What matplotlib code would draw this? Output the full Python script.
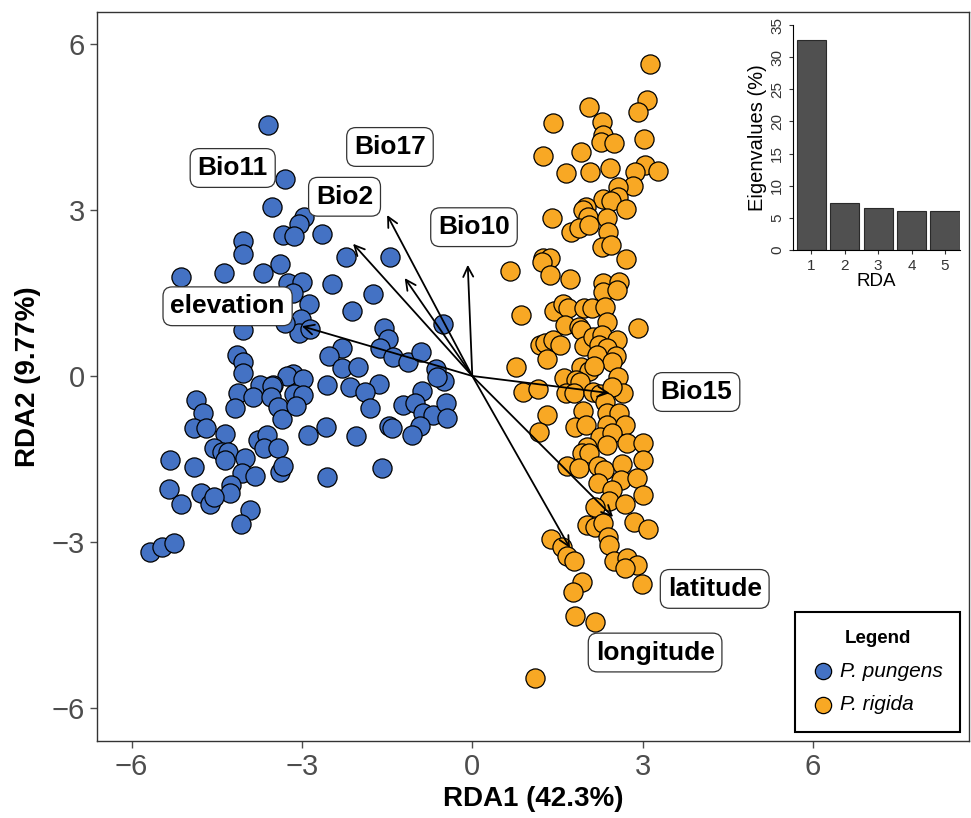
import matplotlib.pyplot as plt

plt.rcParams['font.family'] = ['Liberation Sans', 'DejaVu Sans']

# site scores (RDA1, RDA2)
pungens_x = [-3.60, -3.29, -3.53, -2.97, -3.06, -3.34, -3.14, -2.65, -4.04, -4.04,
             -2.23, -1.45, -5.13, -4.38, -3.69, -3.39, -3.25, -3.00, -2.47, -1.74,
             -2.88, -3.16, -2.12, -3.02, -3.06, -2.86, -1.56, -1.49, -0.52, -4.04,
             -3.30, -4.15, -4.04, -4.04, -2.30, -2.53, -2.30, -2.02, -1.63, -1.40,
             -1.14, -0.91, -0.64, -0.50, -0.63, -1.65, -3.16, -3.27, -2.99, -3.51,
             -3.74, -4.13, -2.56, -2.16, -1.89, -0.89, -4.87, -1.81, -1.22, -1.01,
             -0.87, -0.70, -0.47, -0.45, -0.92, -1.07, -1.47, -1.42, -2.05, -2.58,
             -2.90, -1.59, -2.56, -4.75, -4.91, -4.69, -4.36, -4.55, -4.41, -4.31,
             -4.36, -4.18, -3.87, -3.53, -3.55, -3.43, -3.36, -3.14, -2.99, -3.11,
             -3.78, -3.62, -3.67, -3.43, -4.01, -4.06, -3.83, -3.39, -3.34, -4.25,
             -4.27, -5.33, -4.91, -5.35, -5.13, -4.78, -4.62, -4.55, -3.92, -4.08,
             -5.68, -5.47, -5.26]
pungens_y = [4.54, 3.56, 3.05, 2.87, 2.75, 2.55, 2.53, 2.57, 2.44, 2.20,
             2.15, 2.15, 1.79, 1.86, 1.86, 2.02, 1.68, 1.70, 1.66, 1.48,
             1.30, 1.50, 1.17, 1.03, 0.78, 0.85, 0.87, 0.67, 0.94, 0.83,
             0.96, 0.38, 0.25, 0.05, 0.51, 0.36, 0.14, 0.16, 0.51, 0.34,
             0.25, 0.43, 0.13, -0.09, -0.02, -0.14, 0.04, 0.00, -0.05, -0.16,
             -0.16, -0.31, -0.16, -0.20, -0.29, -0.27, -0.43, -0.58, -0.52, -0.49,
             -0.67, -0.70, -0.49, -0.76, -0.90, -1.07, -0.90, -0.94, -1.08, -0.92,
             -1.07, -1.66, -1.83, -0.67, -0.94, -0.94, -1.05, -1.30, -1.37, -1.37,
             -1.52, -0.58, -0.38, -0.18, -0.38, -0.56, -0.78, -0.33, -0.34, -0.54,
             -1.16, -1.07, -1.30, -1.30, -1.48, -1.75, -1.81, -1.74, -1.63, -1.97,
             -2.11, -1.52, -1.64, -2.04, -2.31, -2.11, -2.31, -2.19, -2.42, -2.67,
             -3.18, -3.09, -3.02]

rigida_x = [3.13, 3.07, 2.92, 2.05, 1.42, 2.28, 2.30, 2.26, 2.49, 3.02,
            1.24, 1.91, 1.65, 2.07, 2.42, 3.04, 2.86, 3.27, 2.83, 2.56,
            2.56, 2.30, 2.44, 2.70, 2.00, 1.95, 2.03, 1.40, 2.37, 2.39,
            1.74, 1.88, 2.05, 2.28, 2.44, 1.24, 1.37, 2.70, 0.66, 1.22,
            1.37, 1.72, 2.30, 2.58, 2.30, 2.55, 0.85, 1.44, 1.59, 1.68,
            1.96, 2.11, 2.33, 2.37, 2.92, 1.63, 1.88, 1.91, 1.19, 1.28,
            1.42, 1.54, 1.31, 1.96, 2.12, 2.28, 2.23, 2.55, 2.37, 2.53,
            2.19, 2.46, 0.77, 1.91, 2.05, 2.14, 1.61, 1.82, 1.89, 2.56,
            0.89, 1.15, 1.65, 1.79, 2.12, 2.25, 2.65, 2.46, 2.33, 1.31,
            1.17, 1.95, 1.81, 2.00, 2.37, 2.58, 2.37, 2.69, 2.25, 2.46,
            2.02, 2.37, 2.72, 3.00, 1.93, 2.05, 1.66, 1.88, 2.21, 2.32,
            2.63, 3.00, 2.21, 2.62, 2.90, 2.46, 3.00, 2.40, 2.69, 2.16,
            2.02, 2.16, 2.30, 2.84, 3.09, 2.39, 2.40, 1.38, 1.58, 1.66,
            1.79, 2.49, 2.72, 2.90, 2.69, 2.99, 1.93, 1.77, 1.81, 2.16,
            1.10]
rigida_y = [5.64, 4.99, 4.77, 4.86, 4.57, 4.59, 4.36, 4.23, 4.21, 4.28,
            3.98, 4.05, 3.67, 3.69, 3.76, 3.81, 3.69, 3.70, 3.43, 3.42,
            3.24, 3.20, 3.16, 3.02, 3.05, 3.00, 2.87, 2.86, 2.86, 2.60,
            2.60, 2.67, 2.73, 2.33, 2.37, 2.13, 2.13, 2.11, 1.90, 2.06,
            1.83, 1.75, 1.68, 1.70, 1.52, 1.55, 1.10, 1.17, 1.30, 1.23,
            1.23, 1.23, 1.25, 0.98, 0.87, 0.92, 0.89, 0.83, 0.56, 0.60,
            0.65, 0.56, 0.31, 0.54, 0.70, 0.74, 0.56, 0.65, 0.51, 0.36,
            0.38, 0.25, 0.16, 0.16, 0.09, 0.18, -0.04, -0.07, -0.11, -0.02,
            -0.29, -0.23, -0.31, -0.31, -0.29, -0.33, -0.31, -0.20, -0.47, -0.70,
            -1.01, -0.63, -0.92, -0.89, -0.67, -0.67, -0.89, -0.89, -1.10, -1.03,
            -1.28, -1.25, -1.21, -1.21, -1.39, -1.39, -1.63, -1.66, -1.63, -1.70,
            -1.59, -1.52, -1.93, -1.88, -1.84, -2.06, -2.15, -2.26, -2.31, -2.37,
            -2.69, -2.73, -2.66, -2.64, -2.77, -2.91, -3.05, -2.95, -3.09, -3.25,
            -3.34, -3.34, -3.29, -3.42, -3.47, -3.76, -3.72, -3.90, -4.34, -4.45,
            -5.46]

# environmental vectors
env_names = ['Bio17', 'Bio2', 'Bio11', 'Bio10', 'elevation', 'Bio15', 'latitude', 'longitude']
env_x = [-1.50, -2.10, -1.19, -0.08, -3.00, 2.42, 2.48, 1.72]
env_y = [2.91, 2.39, 1.77, 2.01, 0.90, -0.31, -2.55, -3.11]
# where the (repelled) labels sit
lab_x = [-1.45, -2.25, -4.22, 0.03, -4.31, 3.95, 4.27, 3.22]
lab_y = [4.14, 3.24, 3.76, 2.69, 1.26, -0.29, -3.85, -5.00]

# eigenvalues for the inset
rda_axes = [1, 2, 3, 4, 5]
eigen_pct = [32.7, 7.3, 6.6, 6.1, 6.0]

col_pungens = '#4472C4'
col_rigida = '#F8A824'
tick_grey = '#4d4d4d'

fig = plt.figure(figsize=(9.71, 8.18), dpi=100)
ax = fig.add_axes([0.0999, 0.0941, 0.8981, 0.8912])

ax.scatter(pungens_x, pungens_y, s=190, c=col_pungens, edgecolors='black',
           linewidths=0.9, label='P. pungens', zorder=2)
ax.scatter(rigida_x, rigida_y, s=190, c=col_rigida, edgecolors='black',
           linewidths=0.9, label='P. rigida', zorder=2)

# arrows from the origin
for ex, ey in zip(env_x, env_y):
    ax.annotate('', xy=(ex, ey), xytext=(0, 0), zorder=3,
                arrowprops=dict(arrowstyle='->', lw=1.3, color='black',
                                mutation_scale=18, shrinkA=0, shrinkB=0))

# labels
for name, lx, ly in zip(env_names, lab_x, lab_y):
    ax.text(lx, ly, name, ha='center', va='center', fontsize=19, fontweight='bold',
            zorder=4,
            bbox=dict(boxstyle='round,pad=0.28,rounding_size=0.35', fc='white',
                      ec='#333333', lw=0.9))

ax.set_xlim(-6.61, 8.75)
ax.set_ylim(-6.60, 6.58)
ax.set_xticks([-6, -3, 0, 3, 6])
ax.set_yticks([-6, -3, 0, 3, 6])
ax.set_xticklabels(['\u22126', '\u22123', '0', '3', '6'])
ax.set_yticklabels(['\u22126', '\u22123', '0', '3', '6'])
ax.tick_params(labelsize=21, colors=tick_grey, length=5, width=1)
for sp in ax.spines.values():
    sp.set_color('#333333')
    sp.set_linewidth(1.0)
ax.set_xlabel('RDA1 (42.3%)', fontsize=20, fontweight='bold', labelpad=4)
ax.set_ylabel('RDA2 (9.77%)', fontsize=20, fontweight='bold', labelpad=8)

leg = ax.legend(loc='lower right', bbox_to_anchor=(0.99, 0.0123), borderaxespad=0,
                title='Legend',
                prop={'style': 'italic', 'size': 15},
                title_fontproperties={'weight': 'bold', 'size': 13.5},
                fancybox=False, edgecolor='black', framealpha=1,
                markerscale=0.85, handletextpad=0.3, labelspacing=0.7,
                borderpad=0.85, handlelength=1.0)
leg.get_frame().set_linewidth(1.5)

# inset: eigenvalue barplot
ins = fig.add_axes([0.8167, 0.6944, 0.172, 0.275])
ins.bar(rda_axes, eigen_pct, width=0.87, color='#505050', edgecolor='#2a2a2a', linewidth=0.8)
ins.set_xlim(0.45, 5.45)
ins.set_ylim(0, 35)
ins.set_yticks([0, 5, 10, 15, 20, 25, 30, 35])
ins.set_xticks(rda_axes)
ins.tick_params(labelsize=11, colors='#333333', length=3)
for lbl in ins.get_yticklabels():
    lbl.set_rotation(90)
    lbl.set_va('center')
ins.spines['top'].set_visible(False)
ins.spines['right'].set_visible(False)
ins.set_xlabel('RDA', fontsize=13.5, labelpad=0)
ins.set_ylabel('Eigenvalues (%)', fontsize=14.5, labelpad=2)
ins.patch.set_alpha(0)

plt.savefig('out.png', dpi=100)
